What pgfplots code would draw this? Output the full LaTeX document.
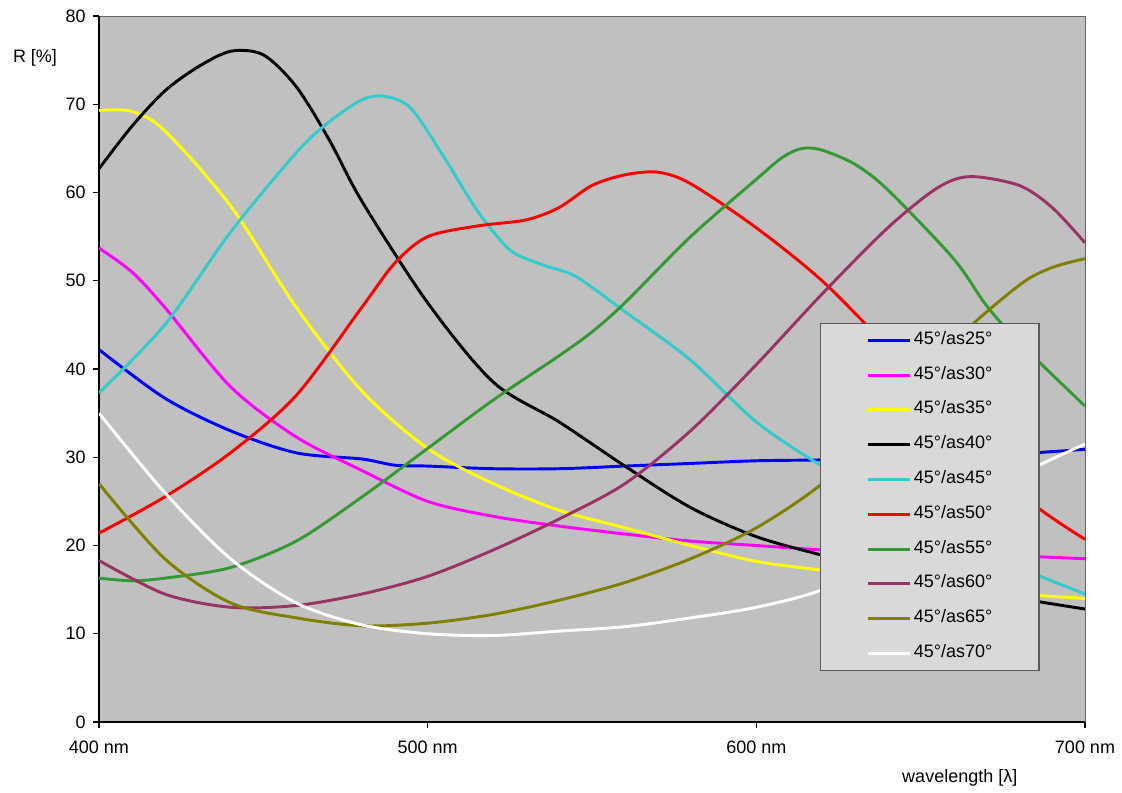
\documentclass[border=0pt]{standalone}
\usepackage{fontspec}
\setmainfont{Liberation Sans}
\usepackage{pgfplots}
\pgfplotsset{compat=1.18}
\definecolor{bggray}{HTML}{C0C0C0}
\definecolor{leggray}{HTML}{D9D9D9}
\definecolor{cA}{HTML}{0000FF}
\definecolor{cB}{HTML}{FF00FF}
\definecolor{cC}{HTML}{FFFF00}
\definecolor{cD}{HTML}{000000}
\definecolor{cE}{HTML}{33CCCC}
\definecolor{cF}{HTML}{FF0000}
\definecolor{cG}{HTML}{339933}
\definecolor{cH}{HTML}{993366}
\definecolor{cI}{HTML}{808000}
\definecolor{cJ}{HTML}{FFFFFF}
\begin{document}
\begin{tikzpicture}[font=\fontsize{13.5}{15}\selectfont]
\useasboundingbox (-74.25pt,-53.25pt) rectangle (767.25pt,541.5pt);
\begin{axis}[
  scale only axis,
  width=739.5pt, height=529.5pt,
  xmin=400, xmax=700, ymin=0, ymax=80,
  axis background/.style={fill=bggray, draw=gray!80!black},
  axis lines*=left,
  axis line style={black, line width=0.9pt},
  xtick={400,500,600,700},
  xticklabels={400 nm,500 nm,600 nm,700 nm},
  ytick={0,10,...,80},
  tick align=outside,
  major tick length=4.5pt,
  tick style={black, line width=0.8pt},
  every tick label/.append style={font=\fontsize{13.5}{15}\selectfont},
  /pgf/number format/assume math mode=true,
  yticklabel style={xshift=-2pt},
  xticklabel style={yshift=-6pt},
  clip mode=individual,
  legend style={at={(0.731,0.565)}, anchor=north west, fill=leggray, draw=gray!70!black,
    line width=0.8pt, inner xsep=35pt, inner ysep=6.5pt, row sep=14.1pt,
    nodes={inner sep=0pt, text height=9pt, text depth=3pt, font=\fontsize{13.5}{15}\selectfont},
    legend cell align=left},
  legend image code/.code={\draw[#1, line width=2.2pt] (0pt,0pt) -- (31pt,0pt);},
  every axis plot/.append style={line width=2.2pt, smooth, tension=0.5},
]
\addplot[cA] coordinates {(400,42.2)(420,36.7)(440,33.0)(460,30.5)(480,29.8)(490,29.1)(500,29.0)(520,28.7)(540,28.7)(560,29.0)(580,29.3)(600,29.6)(620,29.7)(640,29.9)(660,30.1)(680,30.4)(700,30.9)};
\addlegendentry{\hspace{2pt}45°/as25°}
\addplot[cB] coordinates {(400,53.7)(410,51.0)(420,47.0)(440,38.0)(460,32.3)(480,28.5)(500,25.0)(520,23.3)(540,22.2)(560,21.3)(580,20.5)(600,20.0)(620,19.5)(640,19.2)(660,19.0)(680,18.8)(700,18.5)};
\addlegendentry{\hspace{2pt}45°/as30°}
\addplot[cC] coordinates {(400,69.3)(410,69.2)(420,67.0)(440,58.5)(460,47.0)(480,37.5)(500,31.0)(520,27.0)(540,24.0)(560,22.0)(580,20.0)(600,18.2)(620,17.2)(640,16.3)(660,15.3)(680,14.5)(700,14.0)};
\addlegendentry{\hspace{2pt}45°/as35°}
\addplot[cD] coordinates {(400,62.7)(410,67.5)(420,71.5)(430,74.2)(440,76.0)(450,75.6)(460,72.0)(470,66.0)(480,59.0)(500,47.5)(520,38.5)(540,34.0)(560,29.0)(580,24.3)(600,21.0)(620,18.9)(640,17.0)(660,15.4)(680,14.0)(700,12.8)};
\addlegendentry{\hspace{2pt}45°/as40°}
\addplot[cE] coordinates {(400,37.3)(420,45.0)(440,55.5)(460,64.5)(470,68.0)(480,70.5)(487,70.9)(495,69.5)(505,64.0)(515,58.0)(525,53.5)(535,51.8)(545,50.5)(560,46.5)(580,41.0)(600,34.0)(620,29.0)(640,25.0)(660,21.0)(680,17.5)(700,14.5)};
\addlegendentry{\hspace{2pt}45°/as45°}
\addplot[cF] coordinates {(400,21.4)(420,25.5)(440,30.5)(460,37.0)(480,47.0)(490,52.0)(500,55.0)(515,56.2)(530,56.9)(540,58.3)(550,60.8)(560,62.0)(570,62.3)(580,61.0)(600,56.0)(620,50.0)(640,42.5)(660,35.0)(680,26.0)(700,20.7)};
\addlegendentry{\hspace{2pt}45°/as50°}
\addplot[cG] coordinates {(400,16.3)(410,16.0)(420,16.3)(440,17.5)(460,20.5)(480,25.5)(500,31.0)(520,36.5)(540,41.5)(550,44.2)(560,47.5)(580,55.0)(600,61.5)(608,64.0)(614,65.0)(620,64.8)(630,63.2)(640,60.3)(660,52.5)(670,47.2)(680,43.0)(700,35.8)};
\addlegendentry{\hspace{2pt}45°/as55°}
\addplot[cH] coordinates {(400,18.3)(420,14.5)(440,13.0)(460,13.2)(480,14.5)(500,16.5)(520,19.5)(540,23.0)(560,27.0)(580,33.0)(600,40.5)(620,48.5)(640,56.0)(655,60.5)(665,61.8)(680,60.8)(690,58.3)(700,54.3)};
\addlegendentry{\hspace{2pt}45°/as60°}
\addplot[cI] coordinates {(400,27.0)(420,18.5)(440,13.5)(460,11.8)(480,10.9)(500,11.2)(520,12.2)(540,13.8)(560,15.8)(580,18.5)(600,22.0)(620,27.0)(640,34.0)(660,43.0)(680,49.5)(690,51.5)(700,52.5)};
\addlegendentry{\hspace{2pt}45°/as65°}
\addplot[cJ] coordinates {(400,35.0)(420,26.0)(440,18.5)(460,13.5)(480,11.0)(500,10.0)(520,9.8)(540,10.3)(560,10.8)(580,11.8)(600,13.0)(620,15.0)(640,19.0)(660,24.0)(680,28.0)(690,29.8)(700,31.5)};
\addlegendentry{\hspace{2pt}45°/as70°}
\node[anchor=center] at (rel axis cs:-0.0649,0.9405) {R [\%]};
\node[anchor=center] at (rel axis cs:0.873,-0.0793) {wavelength [λ]};
\end{axis}
\end{tikzpicture}
\end{document}
